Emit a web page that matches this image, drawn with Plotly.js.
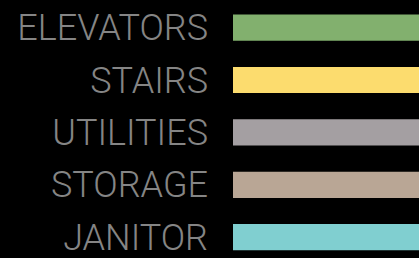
<!DOCTYPE html>
<html>
<head>
<meta charset="utf-8">
<script src="https://cdn.plot.ly/plotly-3.0.1.min.js"></script>
<style>html,body{margin:0;padding:0;background:#000;}#chart{width:419px;height:258px;}</style>
</head>
<body>
<div id="chart"></div>
<script>
var categories = ["ELEVATORS", "STAIRS", "UTILITIES", "STORAGE", "JANITOR"];
var values = [1, 1, 1, 1, 1];
var colors = ["#82b06e", "#fcdc6e", "#a49fa2", "#b9a695", "#80cfd0"];

var trace = {
  type: "bar",
  orientation: "h",
  y: categories,
  x: values,
  marker: {color: colors, line: {width: 0}},
  width: 0.5,
  hoverinfo: "none"
};

var layout = {
  width: 419,
  height: 258,
  margin: {l: 233, r: 0, t: 0, b: 0, pad: 0},
  paper_bgcolor: "#000",
  plot_bgcolor: "#000",
  showlegend: false,
  xaxis: {range: [0, 1], visible: false, fixedrange: true},
  yaxis: {
    type: "category",
    range: [4.397, -0.527],
    showgrid: false,
    zeroline: false,
    showline: false,
    ticks: "",
    ticklabelstandoff: 24,
    tickfont: {family: "Roboto, sans-serif", size: 36, weight: 300, color: "#858585"}
  }
};

Plotly.newPlot("chart", [trace], layout, {displayModeBar: false, staticPlot: true});
</script>
</body>
</html>
